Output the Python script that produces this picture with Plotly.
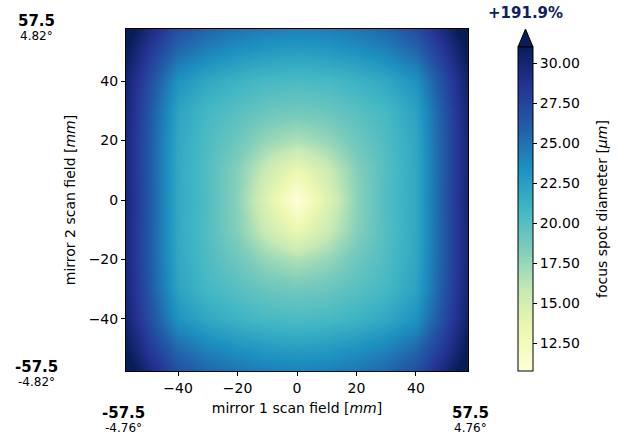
import plotly.graph_objects as go

x_vals = [-60, -50, -40, -30, -20, -10, 0, 10, 20, 30, 40, 50, 60]
y_vals = [-60, -50, -40, -30, -20, -10, 0, 10, 20, 30, 40, 50, 60]

spot_diameter = [
    [33.0, 30.0, 27.2, 26.0, 25.3, 24.9, 24.7, 24.8, 25.2, 26.0, 27.3, 30.2, 33.3],
    [31.8, 28.4, 25.4, 24.1, 23.3, 22.8, 22.6, 22.8, 23.3, 24.1, 25.5, 28.6, 32.1],
    [31.0, 27.1, 23.2, 21.9, 21.1, 20.6, 20.4, 20.6, 21.1, 21.9, 23.3, 27.3, 31.3],
    [30.8, 26.6, 22.2, 20.7, 19.9, 19.2, 18.9, 19.2, 19.9, 20.7, 22.3, 26.8, 31.1],
    [30.7, 26.4, 21.9, 20.3, 19.0, 17.5, 16.6, 17.5, 19.0, 20.3, 22.0, 26.6, 31.0],
    [30.7, 26.4, 21.8, 20.1, 18.1, 15.4, 13.3, 15.4, 18.1, 20.1, 21.9, 26.6, 31.0],
    [30.8, 26.5, 21.8, 20.2, 17.9, 14.3, 10.8, 14.3, 17.9, 20.2, 21.9, 26.7, 31.1],
    [30.7, 26.4, 21.8, 20.1, 18.1, 15.4, 13.3, 15.4, 18.1, 20.1, 21.9, 26.6, 31.0],
    [30.7, 26.4, 21.9, 20.3, 19.0, 17.5, 16.6, 17.5, 19.0, 20.3, 22.0, 26.6, 31.0],
    [30.8, 26.6, 22.2, 20.7, 19.9, 19.2, 18.9, 19.2, 19.9, 20.7, 22.3, 26.8, 31.1],
    [31.0, 27.1, 23.2, 21.9, 21.1, 20.6, 20.4, 20.6, 21.1, 21.9, 23.3, 27.3, 31.3],
    [31.8, 28.4, 25.4, 24.1, 23.3, 22.8, 22.6, 22.8, 23.3, 24.1, 25.5, 28.6, 32.1],
    [33.0, 30.0, 27.2, 26.0, 25.3, 24.9, 24.7, 24.8, 25.2, 26.0, 27.3, 30.2, 33.3],
]

axis_ticks = [-40, -20, 0, 20, 40]
cbar_ticks = [12.5, 15.0, 17.5, 20.0, 22.5, 25.0, 27.5, 30.0]
z_min, z_max = 10.75, 31.0

ylgnbu = ["#ffffd9", "#edf8b1", "#c7e9b4", "#7fcdbb", "#41b6c4",
          "#1d91c0", "#225ea8", "#253494", "#081d58"]
colorscale = [[i / 8, c] for i, c in enumerate(ylgnbu)]

FONT = "DejaVu Sans"
FS = 14
W, H = 620, 436
L, R, T, B = 126, 468, 29, 371

fig = go.Figure(go.Heatmap(
    x=x_vals, y=y_vals, z=spot_diameter,
    zmin=z_min, zmax=z_max, zsmooth="best",
    colorscale=colorscale, hoverinfo="skip",
    colorbar=dict(
        thickness=15, thicknessmode="pixels",
        len=324, lenmode="pixels",
        x=(518 - L) / (R - L), xanchor="left", xpad=0,
        y=0, yanchor="bottom", ypad=0,
        outlinecolor="black", outlinewidth=1,
        tickvals=cbar_ticks, tickformat=".2f",
        ticks="outside", ticklen=4, tickcolor="black",
        tickfont=dict(family=FONT, size=FS, color="black"),
    ),
))

axis_common = dict(
    showgrid=False, zeroline=False, showline=True, linecolor="black",
    linewidth=1, mirror=True, ticks="outside", ticklen=4, tickcolor="black",
    tickfont=dict(family=FONT, size=FS, color="black"),
    tickvals=axis_ticks, range=[-57.5, 57.5],
)

fig.update_layout(
    width=W, height=H,
    margin=dict(l=L, r=W - R, t=T, b=H - B),
    paper_bgcolor="white", plot_bgcolor="white",
    font=dict(family=FONT, color="black"),
    xaxis=dict(axis_common, title=dict(text="mirror 1 scan field [<i>mm</i>]",
                                        font=dict(family=FONT, size=FS), standoff=8)),
    yaxis=dict(axis_common, title=dict(text="mirror 2 scan field [<i>mm</i>]",
                                        font=dict(family=FONT, size=FS), standoff=9)),
)

def px2paper(px, py):
    return (px - L) / (R - L), (B - py) / (B - T)

# colorbar title
cx, cy = px2paper(602, 209)
fig.add_annotation(x=cx, y=cy, xref="paper", yref="paper",
                   text="focus spot diameter [<i>μm</i>]", textangle=-90,
                   showarrow=False, font=dict(family=FONT, size=FS, color="black"),
                   xanchor="center", yanchor="middle")

# colorbar "extend max" arrow
ax0, ay0 = px2paper(518, 47)
ax1, _ = px2paper(533, 47)
axm, aym = px2paper(525.5, 29)
fig.add_shape(type="path", xref="paper", yref="paper",
              path=f"M {ax0} {ay0} L {axm} {aym} L {ax1} {ay0} Z",
              fillcolor="#081d58", line=dict(color="black", width=1))

def add_label(px, py, big, small):
    xp, yp = px2paper(px, py)
    fig.add_annotation(x=xp, y=yp, xref="paper", yref="paper", text=f"<b>{big}</b>",
                       showarrow=False, font=dict(family=FONT, size=15, color="black"),
                       xanchor="center", yanchor="middle")
    xp2, yp2 = px2paper(px, py + 15)
    fig.add_annotation(x=xp2, y=yp2, xref="paper", yref="paper", text=small,
                       showarrow=False, font=dict(family=FONT, size=12, color="black"),
                       xanchor="center", yanchor="middle")

add_label(36, 21, "57.5", "4.82°")
add_label(36, 367, "-57.5", "-4.82°")
add_label(123, 413, "-57.5", "-4.76°")
add_label(470, 413, "57.5", "4.76°")

xp, yp = px2paper(525, 13)
fig.add_annotation(x=xp, y=yp, xref="paper", yref="paper", text="<b>+191.9%</b>",
                   showarrow=False, font=dict(family=FONT, size=15, color="#0e2160"),
                   xanchor="center", yanchor="middle")

fig.write_html("out.html", config={"displayModeBar": False},
               post_script="document.body.style.margin='0px';")
